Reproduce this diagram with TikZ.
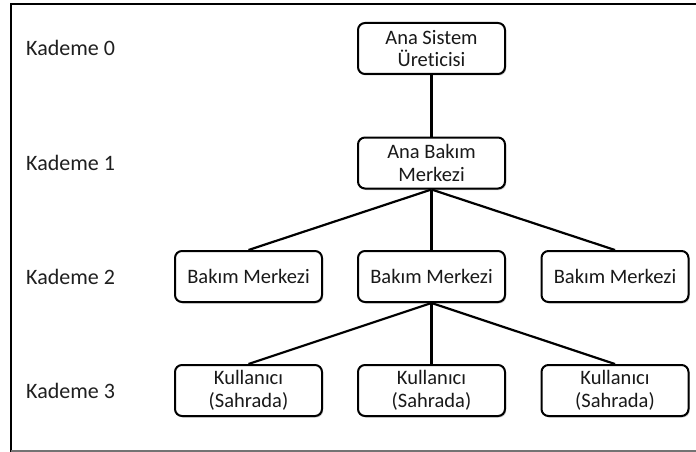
\documentclass[tikz,border=0pt]{standalone}
\usepackage{fontspec}
\setmainfont{Carlito}[Ligatures=NoCommon]
\usetikzlibrary{shadows}
\begin{document}
\begin{tikzpicture}[x=1pt,y=-1pt,
  box/.style={draw=black, line width=2pt, rounded corners=7pt, fill=white,
    minimum width=147pt, minimum height=51pt, inner sep=0pt, align=center,
    font=\fontsize{20.5}{22.5}\selectfont, text=black!90,
    drop shadow={shadow xshift=1.2pt, shadow yshift=-1.5pt, opacity=0.35, fill=black!60}},
  lvl/.style={anchor=west, inner sep=0pt, font=\fontsize{22}{25}\selectfont, text=black!88},
  conn/.style={line width=2.2pt, black}]
\useasboundingbox (0,0) rectangle (696,452);
\fill[white] (0,0) rectangle (696,452);
% frame
\coordinate (fTL) at (11,4);
\coordinate (fBL) at (11,452);
\coordinate (fTR) at (696,4);
\coordinate (fBR) at (696,451);
\coordinate (fBLg) at (11,451);
\draw[line width=2.5pt, black] (fBL) -- (fTL) -- (fTR);
\draw[line width=1.5pt, black!55] (fBLg) -- (fBR);
% level labels
\node[lvl] (k0) at (26,48) {Kademe 0};
\node[lvl] (k1) at (26,163) {Kademe 1};
\node[lvl] (k2) at (26,277) {Kademe 2};
\node[lvl] (k3) at (26,391) {Kademe 3};
% boxes
\node[box] (a) at (431.5,48.5) {Ana Sistem\\Üreticisi};
\node[box] (b) at (431.5,163) {Ana Bakım\\Merkezi};
\node[box] (c1) at (248.5,276.5) {Bakım Merkezi};
\node[box] (c2) at (431.5,276.5) {Bakım Merkezi};
\node[box] (c3) at (615,276.5) {Bakım Merkezi};
\node[box] (d1) at (248.5,390.5) {Kullanıcı\\(Sahrada)};
\node[box] (d2) at (431.5,390.5) {Kullanıcı\\(Sahrada)};
\node[box] (d3) at (615,390.5) {Kullanıcı\\(Sahrada)};
% connectors
\draw[conn] (a.south) -- (b.north);
\draw[conn] (b.south) -- (c1.north);
\draw[conn] (b.south) -- (c2.north);
\draw[conn] (b.south) -- (c3.north);
\draw[conn] (c2.south) -- (d1.north);
\draw[conn] (c2.south) -- (d2.north);
\draw[conn] (c2.south) -- (d3.north);
\end{tikzpicture}
\end{document}
